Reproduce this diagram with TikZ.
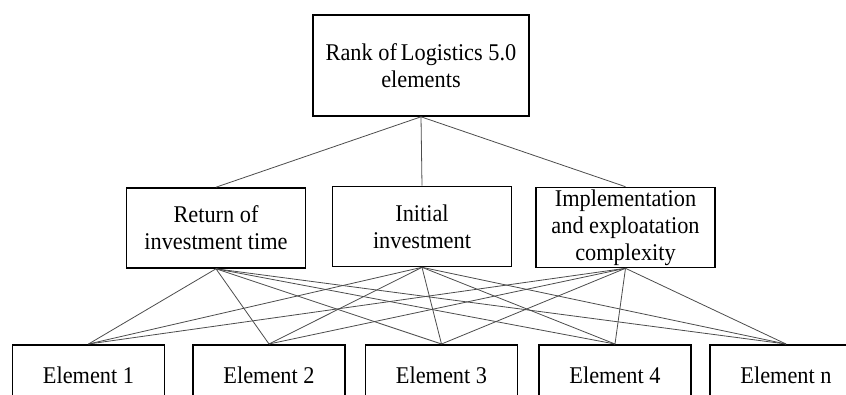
\documentclass[tikz,border=0pt]{standalone}
\usepackage{fontspec}
\setmainfont[FakeStretch=0.93]{Liberation Serif}
\usetikzlibrary{positioning}

\begin{document}
\begin{tikzpicture}
        [x=1pt, y=-1pt,
         box/.style={draw, line width=1.6pt, align=center, inner sep=0pt,
                     font=\fontsize{24}{27}\selectfont},
         crit/.style={box, minimum width=179pt, minimum height=80pt},
         elem/.style={box, anchor=north, minimum width=152pt, minimum height=60pt},
         link/.style={draw=black!70, line width=0.8pt}]
        \useasboundingbox (0,0) rectangle (846,394);
        \clip (0,0) rectangle (846,394);

        \node[box, minimum width=216pt, minimum height=101pt] (rank) at (421,65.5)
            {Rank of\,Logistics 5.0\\elements};

        \node[crit] (ret) at (216,228) {Return of\\investment time};
        \node[crit] (init) at (422,226.5) {Initial\\investment};
        \node[crit] (impl) at (625.5,227.5) {Implementation\\and exploatation\\complexity};

        \node[elem] (e1) at (88.5,344) {Element 1};
        \node[elem] (e2) at (269,344) {Element 2};
        \node[elem] (e3) at (441.5,344) {Element 3};
        \node[elem] (e4) at (615,344) {Element 4};
        \node[elem] (en) at (786,344) {Element n};

        \path[link] (rank.south) edge (ret.north) edge (init.north) edge (impl.north);
        \path[link] (ret.south) edge (e1.north) edge (e2.north) edge (e3.north) edge (e4.north) edge (en.north);
        \path[link] (init.south) edge (e1.north) edge (e2.north) edge (e3.north) edge (e4.north) edge (en.north);
        \path[link] (impl.south) edge (e1.north) edge (e2.north) edge (e3.north) edge (e4.north) edge (en.north);
    \end{tikzpicture}
\end{document}
